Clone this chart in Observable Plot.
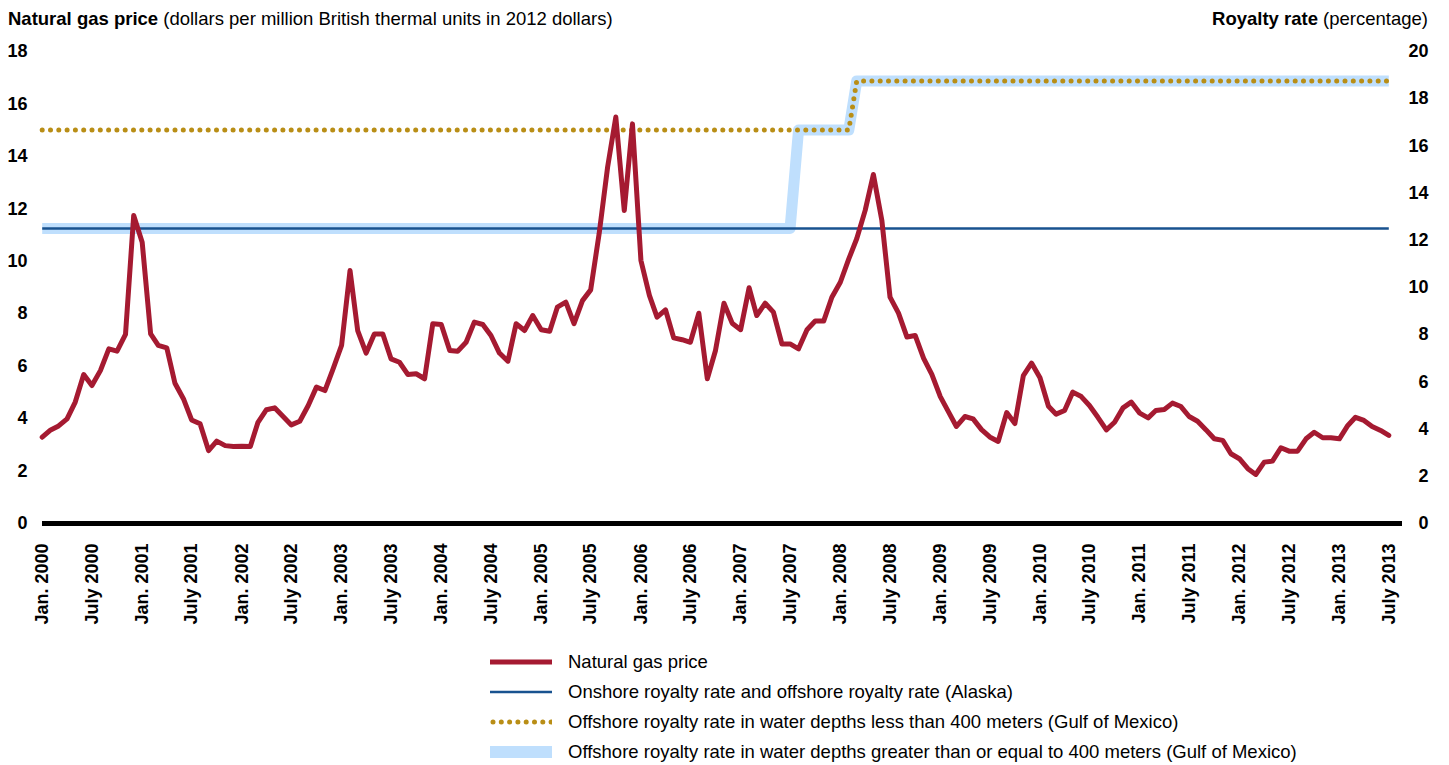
<!DOCTYPE html>
<html>
<head>
<meta charset="utf-8">
<script src="https://cdn.jsdelivr.net/npm/d3@7"></script>
<script src="https://cdn.jsdelivr.net/npm/@observablehq/plot@0.6"></script>
<style>
  body { margin: 0; background: #fff; font-family: "Liberation Sans", Arial, sans-serif; color: #000; }
  #wrap { position: relative; width: 1449px; height: 765px; overflow: hidden; }
  #chart { position: absolute; left: 0; top: 0; }
  .title { position: absolute; top: 8px; font-size: 18.5px; line-height: 22px; white-space: nowrap; }
  .title b { font-weight: bold; }
  #legend { position: absolute; left: 490px; top: 647px; font-size: 18.5px; }
  .row { display: flex; align-items: center; height: 30px; white-space: nowrap; }
  .row svg { width: 62px; height: 14px; margin-right: 16px; flex: none; }
</style>
</head>
<body>
<div id="wrap">
  <div id="chart"></div>
  <div class="title" style="left:8px"><b>Natural gas price</b> (dollars per million British thermal units in 2012 dollars)</div>
  <div class="title" style="right:21px"><b>Royalty rate</b> (percentage)</div>
  <div id="legend"></div>
</div>
<script>
// ---- Data ----
// Monthly natural gas price, Jan. 2000 - July 2013 (dollars per MMBtu, 2012 dollars)
const prices = [
  3.29, 3.57, 3.72, 3.99, 4.63, 5.68, 5.26, 5.83, 6.66, 6.57, 7.21, 11.75,
  10.73, 7.23, 6.79, 6.70, 5.35, 4.76, 3.95, 3.80, 2.78, 3.14, 2.97, 2.94,
  2.95, 2.94, 3.86, 4.34, 4.41, 4.08, 3.76, 3.90, 4.50, 5.20, 5.07, 5.90,
  6.79, 9.65, 7.36, 6.50, 7.23, 7.23, 6.28, 6.15, 5.68, 5.71, 5.52, 7.62,
  7.59, 6.60, 6.57, 6.91, 7.68, 7.59, 7.17, 6.50, 6.19, 7.62, 7.36, 7.93,
  7.39, 7.33, 8.25, 8.44, 7.62, 8.50, 8.91, 11.05, 13.59, 15.50, 11.94, 15.24,
  10.03, 8.70, 7.87, 8.15, 7.08, 7.01, 6.91, 8.02, 5.52, 6.60, 8.40, 7.64,
  7.39, 8.99, 7.93, 8.40, 8.06, 6.85, 6.85, 6.66, 7.39, 7.72, 7.72, 8.63,
  9.20, 10.09, 10.86, 11.94, 13.31, 11.56, 8.63, 8.02, 7.11, 7.17, 6.30, 5.69,
  4.84, 4.24, 3.70, 4.08, 3.99, 3.58, 3.30, 3.13, 4.23, 3.81, 5.64, 6.12,
  5.56, 4.47, 4.17, 4.31, 5.01, 4.84, 4.50, 4.05, 3.57, 3.86, 4.41, 4.63,
  4.21, 4.03, 4.31, 4.35, 4.59, 4.46, 4.08, 3.90, 3.57, 3.23, 3.17, 2.66,
  2.47, 2.09, 1.87, 2.34, 2.38, 2.89, 2.76, 2.76, 3.23, 3.48, 3.27, 3.27,
  3.23, 3.74, 4.05, 3.93, 3.70, 3.55, 3.36
];
const firstMonth = "2000-01";
const lastMonth = "2013-07";

// Royalty rates (percent)
const onshoreDates = ["2000-01", "2013-07"];
const onshoreRates = [12.5, 12.5];
const shallowDates = ["2000-01", "2008-02", "2008-03", "2013-07"];
const shallowRates = [16.67, 16.67, 18.75, 18.75];
const deepDates = ["2000-01", "2007-07", "2007-08", "2008-02", "2008-03", "2013-07"];
const deepRates = [12.5, 12.5, 16.67, 16.67, 18.75, 18.75];

// Axis ticks
const priceTicks = [0, 2, 4, 6, 8, 10, 12, 14, 16, 18];
const rateTicks = [0, 2, 4, 6, 8, 10, 12, 14, 16, 18, 20];

const legendItems = [
  "Natural gas price",
  "Onshore royalty rate and offshore royalty rate (Alaska)",
  "Offshore royalty rate in water depths less than 400 meters (Gulf of Mexico)",
  "Offshore royalty rate in water depths greater than or equal to 400 meters (Gulf of Mexico)"
];

// ---- Build ----
const parse = d3.utcParse("%Y-%m");
const start = parse(firstMonth), end = parse(lastMonth);
const months = d3.utcMonth.range(start, d3.utcMonth.offset(end, 1));
const priceData = months.map((d, i) => ({date: d, price: prices[i]}));
const toRows = (dates, rates) => dates.map((d, i) => ({date: parse(d), rate: rates[i]}));
const onshore = toRows(onshoreDates, onshoreRates);
const shallow = toRows(shallowDates, shallowRates);
const deep = toRows(deepDates, deepRates);
const tickDates = d3.utcMonth.every(6).range(start, d3.utcMonth.offset(end, 1));

const RATE_MAX = 20, PRICE_MAX = 18;
const k = PRICE_MAX / RATE_MAX; // rate -> price-axis units
const rateY = d => d.rate * k;

const COLORS = {price: "#A51A31", onshore: "#18528F", shallow: "#B98E16", deep: "#BFDFFD"};

const chart = Plot.plot({
  width: 1449,
  height: 640,
  marginLeft: 42,
  marginRight: 61,
  marginTop: 51,
  marginBottom: 117,
  style: {fontFamily: '"Liberation Sans", Arial, sans-serif', fontSize: "18px", color: "#000", background: "#fff"},
  x: {type: "utc", domain: [start, end], range: [41.7, 1388.3], axis: null},
  y: {domain: [0, PRICE_MAX], range: [523, 51], axis: null},
  marks: [
    Plot.line(deep, {x: "date", y: rateY, stroke: COLORS.deep, strokeWidth: 11, strokeLinejoin: "round", strokeLinecap: "butt"}),
    Plot.line(shallow, {x: "date", y: rateY, stroke: COLORS.shallow, strokeWidth: 5, strokeDasharray: "0 8.3", strokeLinecap: "round"}),
    Plot.line(onshore, {x: "date", y: rateY, stroke: COLORS.onshore, strokeWidth: 2.5, strokeLinecap: "butt"}),
    Plot.ruleY([0], {stroke: "#000", strokeWidth: 5, insetRight: -14}),
    Plot.line(priceData, {x: "date", y: "price", stroke: COLORS.price, strokeWidth: 5, strokeLinejoin: "round"}),
    Plot.axisY(priceTicks, {anchor: "left", tickSize: 0, tickPadding: 15, fontWeight: "bold", label: null}),
    Plot.axisY(rateTicks.map(r => r * k), {anchor: "right", tickSize: 0, tickPadding: 40, textAnchor: "end",
      tickFormat: d => String(Math.round(d / k)), fontWeight: "bold", label: null}),
    Plot.axisX(tickDates, {anchor: "bottom", tickSize: 0, tickPadding: 20, tickRotate: -90, fontWeight: "bold", label: null,
      tickFormat: d => (d.getUTCMonth() === 0 ? "Jan. " : "July ") + d.getUTCFullYear()})
  ]
});
document.getElementById("chart").appendChild(chart);

// ---- Legend ----
const swatches = [
  `<line x1="0" x2="62" y1="7" y2="7" stroke="${COLORS.price}" stroke-width="5"/>`,
  `<line x1="0" x2="62" y1="7" y2="7" stroke="${COLORS.onshore}" stroke-width="2.5"/>`,
  `<line x1="3" x2="62" y1="7" y2="7" stroke="${COLORS.shallow}" stroke-width="5" stroke-dasharray="0 8.3" stroke-linecap="round"/>`,
  `<line x1="0" x2="62" y1="7" y2="7" stroke="${COLORS.deep}" stroke-width="12"/>`
];
const legend = document.getElementById("legend");
legendItems.forEach((t, i) => {
  const row = document.createElement("div");
  row.className = "row";
  row.innerHTML = `<svg viewBox="0 0 62 14">${swatches[i]}</svg><span>${t}</span>`;
  legend.appendChild(row);
});
</script>
</body>
</html>
